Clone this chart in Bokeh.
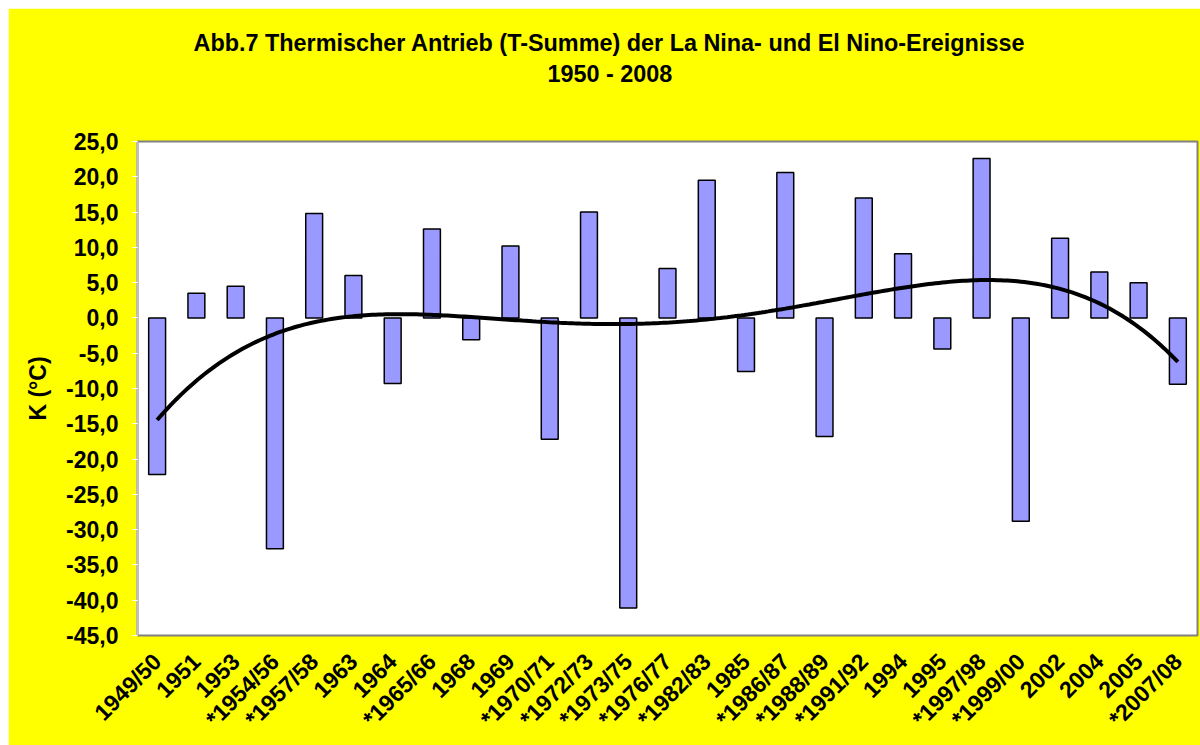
import numpy as np
from math import pi
from bokeh.plotting import figure
from bokeh.models import FactorRange, Range1d, FixedTicker, Title, ColumnDataSource
from bokeh.embed import file_html
from bokeh.resources import INLINE

categories = ["1949/50", "1951", "1953", "*1954/56", "*1957/58", "1963", "1964",
              "*1965/66", "1968", "1969", "*1970/71", "*1972/73", "*1973/75",
              "*1976/77", "*1982/83", "1985", "*1986/87", "*1988/89", "*1991/92",
              "1994", "1995", "*1997/98", "*1999/00", "2002", "2004", "2005", "*2007/08"]
values = [-22.2, 3.5, 4.5, -32.7, 14.8, 6.0, -9.3, 12.6, -3.1, 10.2, -17.2, 15.0,
          -41.1, 7.0, 19.5, -7.6, 20.6, -16.8, 17.0, 9.1, -4.4, 22.6, -28.8, 11.3,
          6.5, 5.0, -9.4]
trend_order = 4  # Excel polynomial trend line, order 4
y_ticks = [-45, -40, -35, -30, -25, -20, -15, -10, -5, 0, 5, 10, 15, 20, 25]
y_tick_labels = ["-45,0", "-40,0", "-35,0", "-30,0", "-25,0", "-20,0", "-15,0", "-10,0",
                 "-5,0", "0,0", "5,0", "10,0", "15,0", "20,0", "25,0"]
title_line1 = "Abb.7 Thermischer Antrieb (T-Summe) der La Nina- und El Nino-Ereignisse"
title_line2 = "1950 - 2008"
y_label = "K (°C)"

FONT = "Liberation Sans"
YELLOW = "#FFFF00"

p = figure(width=1192, height=737, x_range=FactorRange(*categories),
           y_range=Range1d(-45, 25), output_backend="svg", toolbar_location=None,
           min_border_left=129, min_border_right=3, min_border_top=133,
           min_border_bottom=110)
p.margin = (8, 0, 0, 8)
p.background_fill_color = "white"
p.border_fill_color = YELLOW
p.outline_line_color = "#808080"
p.outline_line_width = 2
p.xgrid.visible = False
p.ygrid.visible = False

src = ColumnDataSource(dict(x=categories, top=values))
p.vbar(x="x", top="top", bottom=0, width=0.43, source=src,
       fill_color="#9999FF", line_color="#000000", line_width=1.5)

# polynomial trend line computed from the bar values (as the spreadsheet does)
xs = np.arange(1, len(values) + 1)
coef = np.polyfit(xs, values, trend_order)
xx = np.linspace(1, len(values), 300)
p.line(xx - 0.5, np.polyval(coef, xx), line_color="black", line_width=4)

yax = p.yaxis[0]
yax.ticker = FixedTicker(ticks=y_ticks)
yax.major_label_overrides = {t: s for t, s in zip(y_ticks, y_tick_labels)}
yax.minor_tick_line_color = None
yax.major_tick_out = 5
yax.major_tick_in = 0
yax.major_tick_line_color = "white"
yax.axis_line_color = "#C0C0C0"
yax.axis_line_width = 2
yax.major_label_text_font = FONT
yax.major_label_text_font_style = "bold"
yax.major_label_text_font_size = "23px"
yax.major_label_text_color = "black"
yax.major_label_standoff = 14
yax.axis_label = y_label
yax.axis_label_text_font = FONT
yax.axis_label_text_font_style = "bold"
yax.axis_label_text_font_size = "23px"
yax.axis_label_text_color = "black"
yax.axis_label_standoff = 12

xax = p.xaxis[0]
xax.major_label_orientation = pi / 4
xax.major_tick_line_color = None
xax.minor_tick_line_color = None
xax.axis_line_color = None
xax.major_label_text_font = FONT
xax.major_label_text_font_style = "bold"
xax.major_label_text_font_size = "23px"
xax.major_label_text_color = "black"
xax.major_label_standoff = 16

# titles: spacer nearest the frame, then line 2, then line 1
spacer = Title(text=" ", text_font_size="1px", standoff=52)
t2 = Title(text=title_line2, align="left", offset=410, standoff=0,
           text_font=FONT, text_font_style="bold", text_font_size="23.4px",
           text_color="black")
t1 = Title(text=title_line1, align="left", offset=56, standoff=6,
           text_font=FONT, text_font_style="bold", text_font_size="23.4px",
           text_color="black")
p.add_layout(spacer, "above")
p.add_layout(t2, "above")
p.add_layout(t1, "above")

open("out.html", "w").write(file_html(p, INLINE))
